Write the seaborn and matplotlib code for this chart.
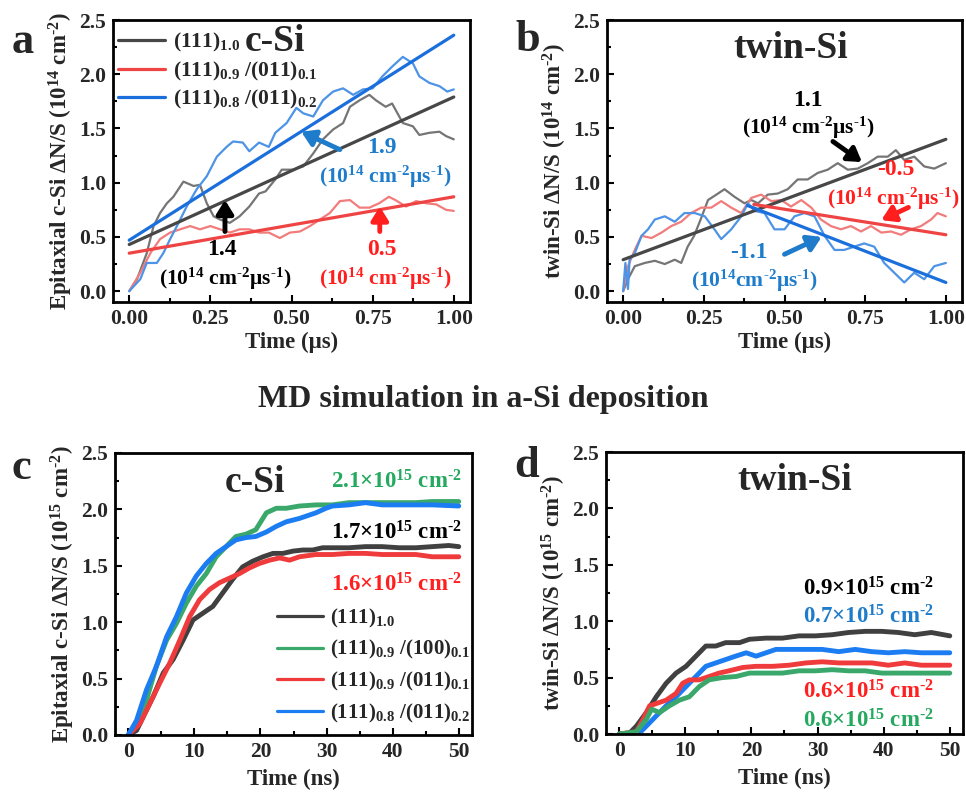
import numpy as np
import pandas as pd
import matplotlib
matplotlib.use("Agg")
import matplotlib.pyplot as plt
import seaborn as sns
from matplotlib.ticker import MultipleLocator

sns.set_style("ticks")
plt.rcParams['font.family'] = ['Liberation Serif', 'DejaVu Serif']
plt.rcParams['font.weight'] = 'bold'
plt.rcParams['axes.labelweight'] = 'bold'
plt.rcParams['mathtext.default'] = 'regular'
plt.rcParams['axes.unicode_minus'] = False

# ---------------- Panel a data (c-Si, time in us) ----------------
a_gray_t = [0, 0.024, 0.054, 0.075, 0.095, 0.116, 0.136, 0.167, 0.198, 0.218, 0.239, 0.26, 0.28, 0.31, 0.34,
            0.37, 0.40, 0.42, 0.45, 0.47, 0.505, 0.536, 0.567, 0.597, 0.628, 0.659, 0.68, 0.71, 0.74, 0.76,
            0.79, 0.81, 0.843, 0.874, 0.894, 0.925, 0.956, 0.976, 1.0]
a_gray_v = [0, 0.11, 0.35, 0.60, 0.72, 0.81, 0.87, 1.01, 0.97, 0.98, 0.81, 0.69, 0.66, 0.63, 0.69,
            0.78, 0.90, 0.92, 1.03, 1.12, 1.12, 1.15, 1.27, 1.40, 1.49, 1.55, 1.70, 1.76, 1.81, 1.76,
            1.70, 1.73, 1.55, 1.52, 1.44, 1.46, 1.47, 1.43, 1.40]
a_blue_t = [0, 0.034, 0.054, 0.085, 0.105, 0.126, 0.147, 0.177, 0.208, 0.239, 0.27, 0.30, 0.32, 0.35, 0.37,
            0.40, 0.43, 0.45, 0.485, 0.515, 0.536, 0.567, 0.597, 0.628, 0.659, 0.69, 0.72, 0.75, 0.78,
            0.81, 0.843, 0.874, 0.894, 0.925, 0.956, 0.98, 1.0]
a_blue_v = [0, 0.11, 0.26, 0.26, 0.35, 0.48, 0.60, 0.78, 0.94, 1.06, 1.24, 1.33, 1.38, 1.37, 1.29,
            1.37, 1.33, 1.46, 1.55, 1.69, 1.64, 1.61, 1.76, 1.84, 1.87, 1.81, 1.86, 1.87, 1.98,
            2.07, 2.16, 2.10, 1.98, 1.92, 1.89, 1.84, 1.86]
a_red_t = [0, 0.034, 0.065, 0.095, 0.126, 0.157, 0.188, 0.218, 0.25, 0.28, 0.31, 0.34, 0.37, 0.40, 0.43,
           0.464, 0.495, 0.526, 0.557, 0.587, 0.618, 0.649, 0.68, 0.71, 0.74, 0.77, 0.80, 0.82, 0.853,
           0.884, 0.915, 0.946, 0.976, 1.0]
a_red_v = [0, 0.17, 0.35, 0.48, 0.54, 0.57, 0.60, 0.57, 0.60, 0.57, 0.54, 0.57, 0.57, 0.54, 0.54,
           0.49, 0.54, 0.55, 0.60, 0.66, 0.72, 0.83, 0.84, 0.77, 0.77, 0.81, 0.87, 0.84, 0.78,
           0.83, 0.81, 0.80, 0.75, 0.74]
a_fit_t = [0.0, 1.0]
a_fit_gray = [0.43, 1.79]
a_fit_red = [0.35, 0.87]
a_fit_blue = [0.47, 2.36]

# ---------------- Panel b data (twin-Si, time in us) ----------------
b_gray_t = [0, 0.015, 0.036, 0.067, 0.098, 0.129, 0.16, 0.18, 0.2, 0.22, 0.24, 0.263, 0.294, 0.314, 0.345,
            0.376, 0.397, 0.418, 0.448, 0.479, 0.51, 0.541, 0.572, 0.603, 0.634, 0.665, 0.696, 0.727,
            0.758, 0.789, 0.82, 0.845, 0.871, 0.902, 0.933, 0.964, 1.0]
b_gray_v = [0, 0.11, 0.23, 0.26, 0.28, 0.25, 0.29, 0.26, 0.41, 0.51, 0.66, 0.84, 0.90, 0.94, 0.87,
            0.81, 0.84, 0.81, 0.89, 0.90, 0.94, 1.03, 1.03, 1.09, 1.12, 1.18, 1.12, 1.13,
            1.18, 1.24, 1.24, 1.30, 1.21, 1.24, 1.15, 1.13, 1.18]
b_red_t = [0, 0.015, 0.036, 0.057, 0.088, 0.119, 0.149, 0.18, 0.21, 0.242, 0.273, 0.304, 0.335, 0.366,
           0.397, 0.428, 0.459, 0.49, 0.52, 0.552, 0.583, 0.613, 0.644, 0.675, 0.706, 0.737, 0.768,
           0.80, 0.83, 0.861, 0.892, 0.923, 0.954, 0.974, 1.0]
b_red_v = [0, 0.23, 0.38, 0.51, 0.49, 0.54, 0.60, 0.64, 0.72, 0.77, 0.77, 0.83, 0.77, 0.72,
           0.86, 0.89, 0.83, 0.84, 0.78, 0.84, 0.77, 0.66, 0.60, 0.57, 0.60, 0.55, 0.60,
           0.54, 0.55, 0.52, 0.57, 0.60, 0.66, 0.72, 0.69]
b_blue_t = [0, 0.007, 0.015, 0.02, 0.036, 0.057, 0.077, 0.098, 0.129, 0.16, 0.19, 0.222, 0.253, 0.283,
            0.304, 0.335, 0.366, 0.387, 0.407, 0.438, 0.469, 0.50, 0.531, 0.562, 0.593, 0.624, 0.655,
            0.685, 0.716, 0.747, 0.778, 0.809, 0.84, 0.871, 0.902, 0.933, 0.964, 1.0]
b_blue_v = [0, 0.26, 0.02, 0.29, 0.35, 0.51, 0.57, 0.66, 0.69, 0.64, 0.72, 0.72, 0.69, 0.57,
            0.48, 0.57, 0.69, 0.81, 0.74, 0.72, 0.57, 0.57, 0.69, 0.72, 0.69, 0.51, 0.38,
            0.38, 0.41, 0.44, 0.41, 0.26, 0.17, 0.08, 0.17, 0.11, 0.23, 0.26]
b_fit_gray_t = [0.0, 1.0]
b_fit_gray = [0.29, 1.40]
b_fit_red_t = [0.405, 1.0]
b_fit_red = [0.80, 0.52]
b_fit_blue_t = [0.385, 1.0]
b_fit_blue = [0.79, 0.08]

# ---------------- Panel c data (c-Si, time in ns) ----------------
c_black_t = [0, 1.26, 2.26, 3.77, 5.3, 6.8, 8.3, 9.8, 11.3, 12.8, 14.3, 15.8, 17.3, 18.8, 20.4, 21.9, 23.4,
             24.9, 26.4, 27.9, 29.4, 30.9, 33.4, 35.9, 38.4, 41, 43.5, 46, 48.5, 50]
c_black_v = [0, 0.04, 0.16, 0.34, 0.55, 0.67, 0.84, 1.02, 1.08, 1.14, 1.26, 1.38, 1.49, 1.54, 1.58, 1.61, 1.61,
             1.63, 1.64, 1.64, 1.66, 1.66, 1.66, 1.67, 1.67, 1.66, 1.66, 1.67, 1.68, 1.67]
c_red_t = [0, 1.76, 3.27, 4.77, 6.3, 7.8, 9.3, 10.8, 12.3, 13.8, 15.3, 16.8, 18.3, 19.8, 21.4, 22.9, 24.4,
           25.9, 28.4, 30.9, 33.4, 35.9, 38.4, 41, 43.5, 46, 50]
c_red_v = [0, 0.10, 0.28, 0.46, 0.64, 0.84, 1.05, 1.20, 1.29, 1.35, 1.39, 1.43, 1.48, 1.52, 1.55, 1.57, 1.55,
           1.58, 1.60, 1.60, 1.61, 1.61, 1.60, 1.60, 1.60, 1.58, 1.58]
c_green_t = [0, 1.26, 2.76, 4.27, 5.8, 7.3, 8.8, 10.3, 11.8, 13.3, 14.8, 16.3, 17.8, 19.3, 20.9, 22.4, 23.9,
             25.9, 28.4, 30.9, 33.4, 35.9, 38.4, 41, 43.5, 46, 50]
c_green_v = [0, 0.10, 0.31, 0.61, 0.84, 0.99, 1.17, 1.32, 1.43, 1.58, 1.67, 1.76, 1.78, 1.82, 1.97, 2.01, 2.01,
             2.03, 2.04, 2.04, 2.06, 2.06, 2.06, 2.06, 2.06, 2.07, 2.07]
c_blue_t = [0, 1.26, 2.76, 4.27, 5.8, 7.3, 8.8, 10.3, 11.8, 13.3, 14.8, 16.3, 17.8, 19.3, 20.9, 22.4, 23.9,
            25.9, 28.4, 29.9, 30.9, 33.4, 35.9, 38.4, 41, 43.5, 46, 50]
c_blue_v = [0, 0.13, 0.40, 0.61, 0.87, 1.05, 1.26, 1.41, 1.52, 1.61, 1.67, 1.73, 1.75, 1.76, 1.80, 1.85, 1.89,
            1.92, 1.97, 2.01, 2.03, 2.04, 2.06, 2.04, 2.04, 2.04, 2.04, 2.03]

# ---------------- Panel d data (twin-Si, time in ns) ----------------
d_black_t = [0, 1.6, 2.6, 4.1, 5.6, 7.1, 8.6, 10.1, 11.6, 13.1, 14.6, 16.1, 18.2, 19.7, 22.2, 24.7, 27.2,
             29.7, 32.2, 34.7, 37.2, 39.7, 42.2, 44.7, 47.2, 50]
d_black_v = [0, 0.01, 0.07, 0.19, 0.33, 0.45, 0.54, 0.60, 0.69, 0.78, 0.78, 0.81, 0.81, 0.84, 0.85, 0.85, 0.87,
             0.87, 0.88, 0.90, 0.91, 0.91, 0.90, 0.88, 0.90, 0.87]
d_red_t = [0, 2.6, 3.6, 4.6, 5.6, 7.1, 8.6, 9.6, 10.6, 12.1, 13.6, 15.1, 16.6, 18.7, 20.7, 23.2, 25.7,
           28.2, 30.7, 33.2, 35.7, 38.2, 40.7, 43.2, 45.7, 50]
d_red_v = [0, 0.02, 0.13, 0.25, 0.27, 0.30, 0.36, 0.45, 0.48, 0.48, 0.51, 0.54, 0.56, 0.59, 0.60, 0.60, 0.61,
           0.63, 0.64, 0.63, 0.63, 0.63, 0.61, 0.63, 0.61, 0.61]
d_blue_t = [0, 3.1, 4.1, 5.6, 7.1, 8.6, 10.1, 11.6, 13.1, 14.6, 16.1, 17.6, 19.2, 20.7, 22.2, 23.7, 25.7,
            28.2, 30.7, 33.2, 35.7, 38.2, 40.7, 43.2, 45.7, 50]
d_blue_v = [0, 0.01, 0.07, 0.16, 0.25, 0.33, 0.42, 0.51, 0.60, 0.63, 0.66, 0.69, 0.72, 0.69, 0.72, 0.75, 0.75,
            0.75, 0.75, 0.73, 0.75, 0.73, 0.72, 0.73, 0.72, 0.72]
d_green_t = [0, 2.6, 4.1, 4.9, 6.1, 7.6, 9.1, 10.6, 12.1, 13.6, 15.6, 17.7, 19.7, 22.2, 24.7, 27.2, 29.7,
             32.2, 34.7, 37.2, 39.7, 42.2, 44.7, 50]
d_green_v = [0, 0.02, 0.13, 0.22, 0.19, 0.25, 0.30, 0.33, 0.42, 0.48, 0.50, 0.51, 0.54, 0.54, 0.54, 0.56, 0.56,
             0.57, 0.56, 0.56, 0.54, 0.54, 0.54, 0.54]

legend_ab = ["(111)$_{1.0}$", "(111)$_{0.9}$ /(011)$_{0.1}$", "(111)$_{0.8}$ /(011)$_{0.2}$"]
legend_c = ["(111)$_{1.0}$", "(111)$_{0.9}$ /(100)$_{0.1}$", "(111)$_{0.9}$ /(011)$_{0.1}$",
            "(111)$_{0.8}$ /(011)$_{0.2}$"]

HY = "\u2010"  # hyphen-like minus used in superscripts

# colours
GRAY_N, GRAY_F = "#757575", "#474747"
RED_N, RED_F = "#f27c7c", "#ef4444"
BLUE_N, BLUE_F = "#4d93e6", "#1b6fdc"
BLK, GRN, RED, BLU = "#404040", "#3aa86a", "#ef3b3b", "#1c7cf2"
TXT_RED, TXT_BLUE, TXT_GRN = "#ff1f1f", "#1f7ccb", "#25a85f"

TICK_FS = 15.5
LABEL_FS = 16.5
TITLE_FS = 27
NUM_FS = 17
UNIT_FS = 15.5

fig = plt.figure(figsize=(9.66, 7.92), dpi=100)
W, H = 966, 792
def add_ax(l, t, r, b):
    return fig.add_axes([l / W, 1 - b / H, (r - l) / W, (b - t) / H])

ax_a = add_ax(113, 20, 470, 302)
ax_b = add_ax(607, 20, 962, 302)
ax_c = add_ax(115, 453, 472, 735)
ax_d = add_ax(606, 452, 963, 734)

def style(ax, xmaj, xmin, ylim, xlim):
    ax.set_xlim(*xlim)
    ax.set_ylim(*ylim)
    ax.xaxis.set_major_locator(MultipleLocator(xmaj))
    ax.xaxis.set_minor_locator(MultipleLocator(xmin))
    ax.yaxis.set_major_locator(MultipleLocator(0.5))
    ax.yaxis.set_minor_locator(MultipleLocator(0.25))
    ax.tick_params(which='both', direction='in', top=False, right=False, width=1.5, color='black')
    ax.tick_params(which='major', length=5, labelsize=TICK_FS, pad=5)
    ax.tick_params(which='minor', length=3)
    for s in ax.spines.values():
        s.set_visible(True)
        s.set_linewidth(2)
        s.set_color('black')
    for lab in ax.get_xticklabels() + ax.get_yticklabels():
        lab.set_fontweight('bold')

def line(ax, x, y, color, lw, label=None):
    sns.lineplot(x=x, y=y, color=color, lw=lw, ax=ax, label=label, legend=False, sort=False)

def arrow(ax, xy_from, xy_to, color):
    ax.annotate("", xy=xy_to, xytext=xy_from,
                arrowprops=dict(arrowstyle="-|>,head_width=0.5,head_length=0.8", lw=3.5,
                                color=color, shrinkA=0, shrinkB=0))

unit = "(10$^{14}$ cm$^{" + HY + "2}$μs$^{" + HY + "1}$)"
unit_ns = "(10$^{14}$cm$^{" + HY + "2}$μs$^{" + HY + "1}$)"
def dens(v):
    return v + "×10$^{15}$ cm$^{" + HY + "2}$"

# ---- Panel a ----
line(ax_a, a_gray_t, a_gray_v, GRAY_N, 1.6)
line(ax_a, a_red_t, a_red_v, RED_N, 1.6)
line(ax_a, a_blue_t, a_blue_v, BLUE_N, 1.6)
line(ax_a, a_fit_t, a_fit_gray, GRAY_F, 2.3, legend_ab[0])
line(ax_a, a_fit_t, a_fit_red, RED_F, 2.3, legend_ab[1])
line(ax_a, a_fit_t, a_fit_blue, BLUE_F, 2.3, legend_ab[2])
style(ax_a, 0.25, 0.125, (-0.1, 2.5), (-0.05, 1.05))
ax_a.set_xlabel("Time (μs)", fontsize=LABEL_FS, fontweight='bold', labelpad=2)
ax_a.set_ylabel("Epitaxial c-Si ΔN/S (10$^{14}$ cm$^{" + HY + "2}$)", fontsize=LABEL_FS,
                fontweight='bold', labelpad=3)
leg = ax_a.legend(loc='upper left', bbox_to_anchor=(-0.01, 0.99), frameon=False,
                  handlelength=2.2, handletextpad=0.35, labelspacing=0.25, borderaxespad=0.0,
                  prop={'family': 'Liberation Serif', 'weight': 'bold', 'size': 15.5})
ax_a.text(0.45, 2.3, "c-Si", fontsize=TITLE_FS, fontweight='bold', ha='center', va='center')
ax_a.text(0.286, 0.386, "1.4", fontsize=NUM_FS, fontweight='bold', ha='center', va='center', color='black')
ax_a.text(0.295, 0.11, unit, fontsize=UNIT_FS, fontweight='bold', ha='center', va='center', color='black')
arrow(ax_a, (0.295, 0.55), (0.295, 0.84), 'black')
ax_a.text(0.778, 1.32, "1.9", fontsize=NUM_FS, fontweight='bold', ha='center', va='center', color=TXT_BLUE)
ax_a.text(0.788, 1.05, unit, fontsize=UNIT_FS, fontweight='bold', ha='center', va='center', color=TXT_BLUE)
arrow(ax_a, (0.649, 1.305), (0.53, 1.47), TXT_BLUE)
ax_a.text(0.778, 0.386, "0.5", fontsize=NUM_FS, fontweight='bold', ha='center', va='center', color=TXT_RED)
ax_a.text(0.788, 0.11, unit, fontsize=UNIT_FS, fontweight='bold', ha='center', va='center', color=TXT_RED)
arrow(ax_a, (0.772, 0.55), (0.772, 0.78), TXT_RED)

# ---- Panel b ----
line(ax_b, b_gray_t, b_gray_v, GRAY_N, 1.6)
line(ax_b, b_red_t, b_red_v, RED_N, 1.6)
line(ax_b, b_blue_t, b_blue_v, BLUE_N, 1.6)
line(ax_b, b_fit_gray_t, b_fit_gray, GRAY_F, 2.3)
line(ax_b, b_fit_red_t, b_fit_red, RED_F, 2.3)
line(ax_b, b_fit_blue_t, b_fit_blue, BLUE_F, 2.3)
style(ax_b, 0.25, 0.125, (-0.1, 2.5), (-0.05, 1.05))
ax_b.set_xlabel("Time (μs)", fontsize=LABEL_FS, fontweight='bold', labelpad=2)
ax_b.set_ylabel("twin-Si ΔN/S (10$^{14}$ cm$^{" + HY + "2}$)", fontsize=LABEL_FS, fontweight='bold', labelpad=3)
ax_b.text(0.519, 2.24, "twin-Si", fontsize=TITLE_FS, fontweight='bold', ha='center', va='center')
ax_b.text(0.572, 1.755, "1.1", fontsize=NUM_FS, fontweight='bold', ha='center', va='center', color='black')
ax_b.text(0.572, 1.507, unit, fontsize=UNIT_FS, fontweight='bold', ha='center', va='center', color='black')
arrow(ax_b, (0.65, 1.38), (0.74, 1.19), 'black')
ax_b.text(0.844, 1.12, "-0.5", fontsize=NUM_FS, fontweight='bold', ha='center', va='center', color=TXT_RED)
ax_b.text(0.8375, 0.846, unit, fontsize=UNIT_FS, fontweight='bold', ha='center', va='center', color=TXT_RED)
arrow(ax_b, (0.884, 0.772), (0.80, 0.655), TXT_RED)
ax_b.text(0.39, 0.358, "-1.1", fontsize=NUM_FS, fontweight='bold', ha='center', va='center', color=TXT_BLUE)
ax_b.text(0.406, 0.092, unit_ns, fontsize=UNIT_FS, fontweight='bold', ha='center', va='center', color=TXT_BLUE)
arrow(ax_b, (0.5, 0.34), (0.615, 0.50), TXT_BLUE)

# ---- Panel c ----
line(ax_c, c_black_t, c_black_v, BLK, 3.5, legend_c[0])
line(ax_c, c_green_t, c_green_v, GRN, 3.5, legend_c[1])
line(ax_c, c_red_t, c_red_v, RED, 3.5, legend_c[2])
line(ax_c, c_blue_t, c_blue_v, BLU, 3.5, legend_c[3])
style(ax_c, 10, 5, (0, 2.5), (-2, 52))
ax_c.set_xlabel("Time (ns)", fontsize=LABEL_FS, fontweight='bold', labelpad=5)
ax_c.set_ylabel("Epitaxial c-Si ΔN/S (10$^{15}$ cm$^{" + HY + "2}$)", fontsize=LABEL_FS,
                fontweight='bold', labelpad=3)
leg_c = ax_c.legend(loc='upper left', bbox_to_anchor=(0.43, 0.485), frameon=False,
                    handlelength=2.2, handletextpad=0.35, labelspacing=0.42, borderaxespad=0.0,
                    prop={'family': 'Liberation Serif', 'weight': 'bold', 'size': 15})
for lh in leg_c.get_lines():
    lh.set_linewidth(2.3)
ax_c.text(19.1, 2.24, "c-Si", fontsize=TITLE_FS, fontweight='bold', ha='center', va='center')
ax_c.text(50.5, 2.24, dens("2.1"), fontsize=16.5, fontweight='bold', ha='right', va='center', color=TXT_GRN)
ax_c.text(50.5, 1.79, dens("1.7"), fontsize=16.5, fontweight='bold', ha='right', va='center', color='black')
ax_c.text(50.5, 1.33, dens("1.6"), fontsize=16.5, fontweight='bold', ha='right', va='center', color=TXT_RED)

# ---- Panel d ----
line(ax_d, d_black_t, d_black_v, BLK, 3.5)
line(ax_d, d_blue_t, d_blue_v, BLU, 3.5)
line(ax_d, d_red_t, d_red_v, RED, 3.5)
line(ax_d, d_green_t, d_green_v, GRN, 3.5)
style(ax_d, 10, 5, (0, 2.5), (-2, 52))
ax_d.set_xlabel("Time (ns)", fontsize=LABEL_FS, fontweight='bold', labelpad=5)
ax_d.set_ylabel("twin-Si ΔN/S (10$^{15}$ cm$^{" + HY + "2}$)", fontsize=LABEL_FS, fontweight='bold', labelpad=3)
ax_d.text(26.5, 2.25, "twin-Si", fontsize=TITLE_FS, fontweight='bold', ha='center', va='center')
ax_d.text(47.6, 1.29, dens("0.9"), fontsize=16.5, fontweight='bold', ha='right', va='center', color='black')
ax_d.text(47.6, 1.04, dens("0.7"), fontsize=16.5, fontweight='bold', ha='right', va='center', color=TXT_BLUE)
ax_d.text(47.6, 0.37, dens("0.6"), fontsize=16.5, fontweight='bold', ha='right', va='center', color=TXT_RED)
ax_d.text(47.6, 0.12, dens("0.6"), fontsize=16.5, fontweight='bold', ha='right', va='center', color=TXT_GRN)

# ---- figure-level text ----
fig.text(483 / W, 1 - 400 / H, "MD simulation in a-Si deposition", fontsize=23, fontweight='bold',
         ha='center', va='center')
for letter, (px, py) in {"a": (23, 42), "b": (528, 40), "c": (21, 468), "d": (527, 466)}.items():
    fig.text(px / W, 1 - py / H, letter, fontsize=32, fontweight='bold', ha='center', va='center')

fig.savefig("out.png", dpi=100)
